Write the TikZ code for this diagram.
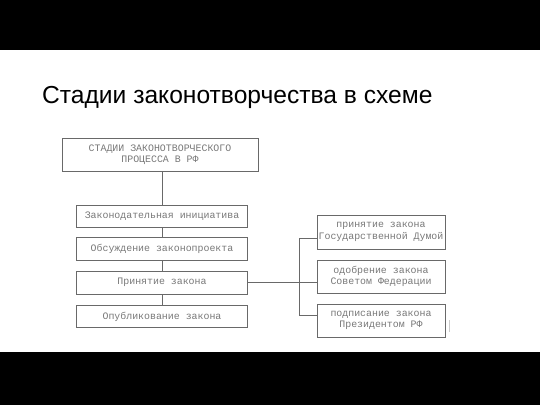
\documentclass[tikz,border=0pt]{standalone}
\usepackage{fontspec}
\setmainfont{Liberation Sans}
\newfontfamily\boxfont{Liberation Mono}
\definecolor{boxline}{RGB}{105,105,105}
\definecolor{boxtext}{RGB}{120,120,120}
\begin{document}
\begin{tikzpicture}[x=1pt,y=-1pt,
  stagebox/.style={draw=boxline, line width=0.9pt, rectangle, inner sep=0pt, align=center,
    font=\boxfont\fontsize{9.9}{11.5}\selectfont, text=boxtext},
  conn/.style={draw=boxline, line width=0.9pt}]
\useasboundingbox (0,0) rectangle (540,405);
\fill[black] (0,0) rectangle (540,50);
\fill[black] (0,352) rectangle (540,405);
\node[anchor=base west, font=\fontsize{24.6}{28}\selectfont, inner sep=0pt] (title) at (42,103) {Стадии законотворчества в схеме};
\node[stagebox, minimum width=196pt, minimum height=33pt] (top) at (160,154.5) {СТАДИИ ЗАКОНОТВОРЧЕСКОГО\\ПРОЦЕССА В РФ};
\node[stagebox, minimum width=171pt, minimum height=22pt] (b1) at (162,216) {Законодательная инициатива};
\node[stagebox, minimum width=171pt, minimum height=23pt] (b2) at (162,248.5) {Обсуждение законопроекта};
\node[stagebox, minimum width=171pt, minimum height=23pt] (b3) at (162,282.5) {Принятие закона};
\node[stagebox, minimum width=171pt, minimum height=22pt] (b4) at (162,316.5) {Опубликование закона};
\node[stagebox, minimum width=128pt, minimum height=34pt] (r1) at (381,232) {принятие закона\\Государственной Думой};
\node[stagebox, minimum width=128pt, minimum height=33pt] (r2) at (381,276.5) {одобрение закона\\Советом Федерации};
\node[stagebox, minimum width=128pt, minimum height=33pt] (r3) at (381,320.5) {подписание закона\\Президентом РФ};
\draw[conn] (b1.north |- top.south) -- (b1.north);
\draw[conn] (b1.south) -- (b2.north);
\draw[conn] (b2.south) -- (b3.north);
\draw[conn] (b3.south) -- (b4.north);
\draw[conn] (b3.east) -- (b3.east -| r2.west);
\coordinate (j1) at (299,238);
\coordinate (j3) at (299,315);
\draw[conn] (j1 -| r1.west) -- (j1) -- (j3) -- (j3 -| r3.west);
\draw[gray!40, line width=1pt] (449,320) -- (449,332);
\end{tikzpicture}
\end{document}
